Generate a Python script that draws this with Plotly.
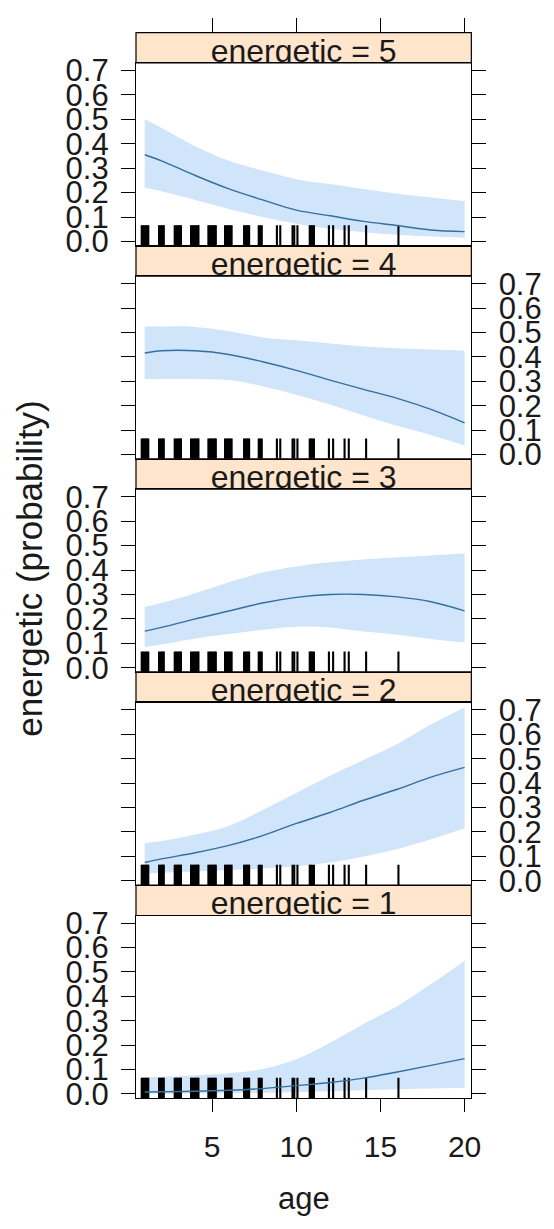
import plotly.graph_objects as go

# ---------------- data ----------------
levels = ["5", "4", "3", "2", "1"]          # panel order, top to bottom
ages = [1, 2, 4, 6, 8, 10, 12, 14, 16, 18, 20]

fit_5 = [0.355, 0.33, 0.27, 0.215, 0.17, 0.128, 0.105, 0.082, 0.065, 0.047, 0.04]
lo_5 = [0.22, 0.205, 0.17, 0.133, 0.10, 0.072, 0.052, 0.038, 0.027, 0.02, 0.015]
hi_5 = [0.50, 0.465, 0.39, 0.33, 0.29, 0.255, 0.235, 0.215, 0.195, 0.18, 0.165]

fit_4 = [0.416, 0.425, 0.425, 0.41, 0.38, 0.345, 0.305, 0.267, 0.23, 0.185, 0.13]
lo_4 = [0.31, 0.31, 0.31, 0.305, 0.28, 0.245, 0.205, 0.16, 0.118, 0.08, 0.037]
hi_4 = [0.525, 0.525, 0.523, 0.505, 0.48, 0.468, 0.455, 0.443, 0.435, 0.43, 0.425]

fit_3 = [0.15, 0.165, 0.2, 0.232, 0.265, 0.288, 0.3, 0.3, 0.29, 0.27, 0.233]
lo_3 = [0.085, 0.095, 0.12, 0.138, 0.155, 0.168, 0.165, 0.148, 0.135, 0.118, 0.104]
hi_3 = [0.25, 0.265, 0.305, 0.35, 0.39, 0.415, 0.432, 0.443, 0.452, 0.46, 0.468]

fit_2 = [0.075, 0.09, 0.115, 0.145, 0.185, 0.235, 0.28, 0.33, 0.375, 0.425, 0.465]
lo_2 = [0.03, 0.033, 0.038, 0.044, 0.05, 0.06, 0.075, 0.1, 0.13, 0.17, 0.215]
hi_2 = [0.155, 0.163, 0.19, 0.225, 0.29, 0.36, 0.43, 0.495, 0.56, 0.64, 0.71]

fit_1 = [0.008, 0.009, 0.011, 0.015, 0.022, 0.034, 0.047, 0.065, 0.09, 0.117, 0.145]
lo_1 = [0.001, 0.001, 0.002, 0.003, 0.005, 0.008, 0.011, 0.015, 0.019, 0.022, 0.025]
hi_1 = [0.067, 0.07, 0.077, 0.085, 0.102, 0.142, 0.21, 0.287, 0.36, 0.45, 0.545]

fits = [fit_5, fit_4, fit_3, fit_2, fit_1]
lows = [lo_5, lo_4, lo_3, lo_2, lo_1]
highs = [hi_5, hi_4, hi_3, hi_2, hi_1]

# jittered ages of the observations (rug)
rug_ages = [0.82, 0.9, 0.98, 1.06, 1.14, 1.21,
            1.85, 1.93, 2.01, 2.09, 2.13,
            2.78, 2.86, 2.94, 3.02, 3.1, 3.15,
            3.75, 3.83, 3.91, 3.99, 4.07, 4.15, 4.19,
            4.78, 4.86, 4.94, 5.02, 5.1, 5.18, 5.22,
            5.77, 5.85, 5.93, 6.01, 6.09, 6.16,
            6.9, 6.98, 7.06, 7.14, 7.2,
            7.77, 7.85, 7.95,
            8.85, 9.05,
            9.78, 9.88, 10.07,
            10.8, 10.88, 10.96, 11.05,
            11.94, 12.19,
            12.87, 13.12,
            14.15,
            16.07]

x_ticks = [5, 10, 15, 20]
y_ticks = [0.0, 0.1, 0.2, 0.3, 0.4, 0.5, 0.6, 0.7]
y_tick_text = ["0.0", "0.1", "0.2", "0.3", "0.4", "0.5", "0.6", "0.7"]

# ---------------- geometry ----------------
W, H = 554, 1229
LEFT, RIGHT = 138.5, 480.0
TOP, BOTTOM = 24.0, 1110.0
STRIP = 31.0
block = (BOTTOM - TOP) / 5
XR = [0.48, 20.4]
YR = [-0.0175, 0.731]
RUG_TOP = 0.066

FONT = "Liberation Sans, Arial, sans-serif"
TXT = "#1a1a1a"
BAND = "#D0E4FA"
LINE = "#33709F"

def py(p):
    return 1 - p / H

fig = go.Figure()
layout = dict(
    width=W, height=H,
    margin=dict(l=0, r=0, t=0, b=0),
    paper_bgcolor="white", plot_bgcolor="white",
    showlegend=False,
    font=dict(family=FONT, color=TXT),
)
shapes = []
xdom = [LEFT / W, RIGHT / W]

for k, lev in enumerate(levels):
    s_top = TOP + k * block
    s_bot = s_top + STRIP
    p_bot = TOP + (k + 1) * block
    pi = k + 1          # panel axes
    si = k + 6          # strip axes
    bottom_panel = (k == 4)

    layout[f"xaxis{pi}"] = dict(
        domain=xdom, anchor=f"y{pi}", range=XR, showgrid=False, zeroline=False,
        showline=True, linecolor="black", linewidth=1.2, mirror=True,
        ticks="outside" if bottom_panel else "", tickvals=x_ticks,
        ticklen=13, tickwidth=1.3, tickcolor="black",
        showticklabels=bottom_panel, tickfont=dict(size=30, family=FONT, color=TXT),
        ticklabelstandoff=9,
    )
    layout[f"yaxis{pi}"] = dict(
        domain=[py(p_bot), py(s_bot)], anchor=f"x{pi}", range=YR,
        showgrid=False, zeroline=False,
        showline=True, linecolor="black", linewidth=1.2, mirror="ticks",
        side="left" if k % 2 == 0 else "right",
        ticks="outside", tickvals=y_ticks, ticktext=y_tick_text,
        ticklen=14, tickwidth=1.3, tickcolor="black",
        tickfont=dict(size=31, family=FONT, color=TXT),
        ticklabelstandoff=6,
    )
    layout[f"xaxis{si}"] = dict(
        domain=xdom, anchor=f"y{si}", range=XR, showgrid=False, zeroline=False,
        showline=False, side="top",
        ticks="outside" if k == 0 else "", tickvals=x_ticks, ticklen=14,
        tickwidth=1.3, tickcolor="black", showticklabels=False,
    )
    layout[f"yaxis{si}"] = dict(
        domain=[py(s_bot), py(s_top)], anchor=f"x{si}", range=[0, 1],
        visible=False, fixedrange=True,
    )
    shapes.append(dict(
        type="rect", xref=f"x{si} domain", yref=f"y{si} domain",
        x0=0, x1=1, y0=0, y1=1, fillcolor="#FFE5CC",
        line=dict(color="black", width=1.2), layer="below",
    ))

    # strip text (clipped to the strip like lattice does)
    fig.add_trace(go.Scatter(
        x=[(XR[0] + XR[1]) / 2], y=[0.30], mode="text",
        text=[f"energetic = {lev}"], textposition="middle center",
        textfont=dict(size=32, family=FONT, color=TXT),
        cliponaxis=True, xaxis=f"x{si}", yaxis=f"y{si}", hoverinfo="skip",
    ))

    # confidence band
    fig.add_trace(go.Scatter(
        x=ages, y=lows[k], mode="lines", line=dict(width=0, shape="spline"),
        xaxis=f"x{pi}", yaxis=f"y{pi}", hoverinfo="skip",
    ))
    fig.add_trace(go.Scatter(
        x=ages, y=highs[k], mode="lines", line=dict(width=0, shape="spline"),
        fill="tonexty", fillcolor=BAND,
        xaxis=f"x{pi}", yaxis=f"y{pi}", hoverinfo="skip",
    ))

    # rug
    rx, ry = [], []
    for a in rug_ages:
        rx += [a, a, None]
        ry += [YR[0], RUG_TOP, None]
    fig.add_trace(go.Scatter(
        x=rx, y=ry, mode="lines", line=dict(color="black", width=2.1),
        xaxis=f"x{pi}", yaxis=f"y{pi}", hoverinfo="skip",
    ))

    # fitted line
    fig.add_trace(go.Scatter(
        x=ages, y=fits[k], mode="lines",
        line=dict(color=LINE, width=1.4, shape="spline"),
        xaxis=f"x{pi}", yaxis=f"y{pi}",
    ))

layout["shapes"] = shapes
layout["annotations"] = [
    dict(text="energetic (probability)", x=30 / W, y=py(570), xref="paper", yref="paper",
         textangle=-90, showarrow=False, xanchor="center", yanchor="middle",
         font=dict(size=35, family=FONT, color=TXT)),
    dict(text="age", x=(LEFT + RIGHT) / 2 / W, y=py(1212), xref="paper", yref="paper",
         showarrow=False, xanchor="center", yanchor="middle",
         font=dict(size=31, family=FONT, color=TXT)),
]
fig.update_layout(**layout)
fig.write_html("out.html", config={"displayModeBar": False},
               post_script="document.body.style.margin='0px';")
